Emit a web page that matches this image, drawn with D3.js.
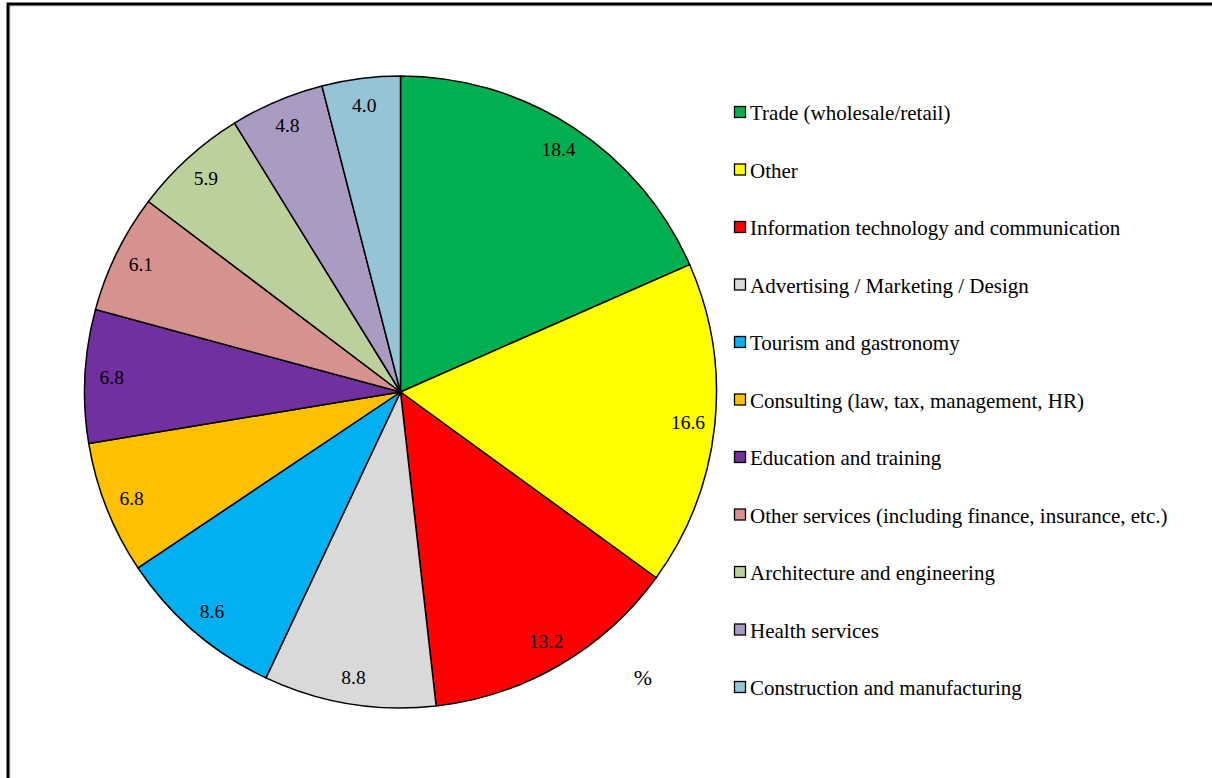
<!DOCTYPE html>
<html>
<head>
<meta charset="utf-8">
<script src="https://cdn.jsdelivr.net/npm/d3@7"></script>
<style>
  html, body { margin: 0; padding: 0; background: #fff; overflow: hidden; }
  svg { display: block; }
  text { font-family: "Liberation Serif", "Times New Roman", serif; fill: #000; }
</style>
</head>
<body>
<svg id="chart" width="1212" height="778"></svg>
<script>
const categories = [
  "Trade (wholesale/retail)",
  "Other",
  "Information technology and communication",
  "Advertising / Marketing / Design",
  "Tourism and gastronomy",
  "Consulting (law, tax, management, HR)",
  "Education and training",
  "Other services (including finance, insurance, etc.)",
  "Architecture and engineering",
  "Health services",
  "Construction and manufacturing"
];
const values = [18.4, 16.6, 13.2, 8.8, 8.6, 6.8, 6.8, 6.1, 5.9, 4.8, 4.0];
const colors = ["#00B050", "#FFFF00", "#FF0000", "#D9D9D9", "#00B0F0", "#FFC000",
                "#7030A0", "#D5928F", "#BCD09B", "#AA9BC2", "#95C4D6"];
const unitLabel = "%";

const svg = d3.select("#chart");

// Chart frame
svg.append("rect").attr("x", 10).attr("y", 6).attr("width", 1230).attr("height", 800)
  .attr("fill", "none").attr("stroke", "#c8c8c8").attr("stroke-width", 1);
svg.append("rect").attr("x", 8).attr("y", 4).attr("width", 1230).attr("height", 800)
  .attr("fill", "none").attr("stroke", "#000").attr("stroke-width", 3);

const cx = 400.5, cy = 392, r = 316;
const data = categories.map((c, i) => ({ cat: c, value: values[i], color: colors[i] }));

const pie = d3.pie().sort(null).value(d => d.value);
const arc = d3.arc().innerRadius(0).outerRadius(r);
const labelArc = d3.arc().innerRadius(r * 0.915).outerRadius(r * 0.915);

const g = svg.append("g").attr("transform", `translate(${cx},${cy})`);
const arcs = pie(data);

g.selectAll("path.slice").data(arcs).join("path")
  .attr("class", "slice")
  .attr("d", arc)
  .attr("fill", d => d.data.color)
  .attr("stroke", "#000")
  .attr("stroke-width", 1.5)
  .attr("stroke-linejoin", "round");

g.selectAll("text.lbl").data(arcs).join("text")
  .attr("class", "lbl")
  .attr("transform", d => {
    const [x, y] = labelArc.centroid(d);
    return `translate(${x},${y})`;
  })
  .attr("text-anchor", "middle")
  .attr("dominant-baseline", "central")
  .attr("font-size", "19.5px")
  .text(d => d.data.value.toFixed(1));

svg.append("text").attr("x", 643).attr("y", 677)
  .attr("text-anchor", "middle").attr("dominant-baseline", "central")
  .attr("font-size", "22px").text(unitLabel);

// Legend
const legendY = d3.scalePoint().domain(categories).range([113, 688]);
const leg = svg.append("g");
const items = leg.selectAll("g.item").data(data).join("g")
  .attr("class", "item")
  .attr("transform", d => `translate(734,${legendY(d.cat)})`);
items.append("rect")
  .attr("x", 0.5).attr("y", -6.5).attr("width", 11).attr("height", 11)
  .attr("fill", d => d.color).attr("stroke", "#000").attr("stroke-width", 1.3);
items.append("text")
  .attr("x", 16).attr("y", 0)
  .attr("dominant-baseline", "central")
  .attr("font-size", "21px")
  .text(d => d.cat);
</script>
</body>
</html>
